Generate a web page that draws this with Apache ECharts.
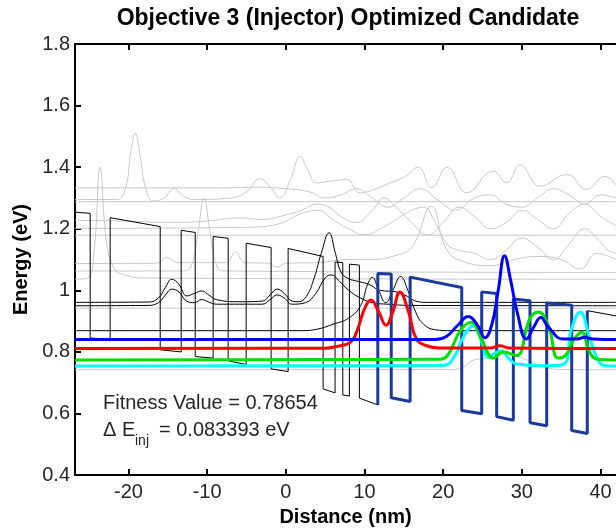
<!DOCTYPE html>
<html>
<head>
<meta charset="utf-8">
<script src="https://cdn.jsdelivr.net/npm/echarts@6/dist/echarts.min.js"></script>
<style>html,body{margin:0;padding:0;background:#fff}#c{width:616px;height:532px}</style>
</head>
<body>
<div id="c"></div>
<script>
// ---- axis ticks ----
const xTicks = [-20, -10, 0, 10, 20, 30, 40];
const yTicks = [0.4, 0.6, 0.8, 1, 1.2, 1.4, 1.6, 1.8];

// ---- conduction band profile [distance nm, energy eV] ----
const bandActive = [[-26.8,1.254],[-24.87,1.25],[-24.87,0.845],[-22.33,0.842],[-22.33,1.236],[-15.97,1.207],[-15.97,0.807],[-13.3,0.80],[-13.3,1.195],[-11.52,1.188],[-11.52,0.785],[-9.24,0.78],[-9.24,1.175],[-7.33,1.169],[-7.33,0.771],[-5.04,0.759],[-5.04,1.153],[-1.87,1.139],[-1.87,0.745],[0.29,0.736],[0.29,1.136],[4.74,1.11],[4.74,0.68],[6.26,0.667],[6.26,1.092],[7.24,1.09],[7.24,0.66],[8.08,0.657],[8.08,1.085],[9.35,1.082],[9.35,0.65],[11.69,0.628]];
const bandInjector = [[11.69,0.628],[11.69,1.055],[13.4,1.053],[13.4,0.651],[15.8,0.639],[15.8,1.043],[22.36,1.009],[22.36,0.61],[24.9,0.599],[24.9,0.995],[26.8,0.99],[26.8,0.59],[28.92,0.578],[28.92,0.972],[31.04,0.966],[31.04,0.57],[33.16,0.56],[33.16,0.959],[36.34,0.952],[36.34,0.545],[38.32,0.535],[38.32,0.934]];
const bandTail = [[38.32,0.934],[41.97,0.917]];

// ---- highlighted wavefunctions (|psi|^2 offset by level) ----
const psiBlue = [[-26.8,0.84],[19,0.84],[20.4,0.85],[21.8,0.885],[23.2,0.915],[24.4,0.885],[25.3,0.846],[26.2,0.89],[27,1.0],[27.8,1.112],[28.6,1.03],[29.4,0.93],[30.6,0.842],[31.5,0.88],[32.4,0.912],[33.4,0.88],[35.2,0.842],[37,0.842],[38,0.848],[39,0.842],[42,0.84]];
const psiRed = [[-26.8,0.811],[5,0.812],[6.5,0.818],[8.2,0.831],[9.0,0.865],[10.0,0.94],[10.8,0.969],[11.8,0.93],[12.74,0.887],[13.6,0.93],[14.5,0.995],[15.6,0.93],[16.6,0.842],[17.9,0.82],[19.5,0.813],[26,0.813],[27.2,0.82],[28.4,0.813],[42,0.811]];
const psiGreen = [[-26.8,0.774],[19.5,0.776],[20.6,0.79],[22.2,0.87],[23.6,0.896],[24.9,0.84],[26.4,0.78],[27.6,0.80],[29.3,0.788],[31.0,0.907],[32.1,0.93],[33.4,0.883],[34.6,0.78],[35.6,0.79],[36.6,0.84],[37.6,0.864],[38.6,0.80],[39.6,0.776],[42,0.774]];
const psiCyan = [[-26.8,0.754],[20,0.756],[21.3,0.78],[22.6,0.85],[23.8,0.885],[24.8,0.84],[25.7,0.783],[26.5,0.795],[27.4,0.804],[28.3,0.78],[29.3,0.761],[33,0.755],[35.3,0.76],[36.3,0.874],[37.4,0.93],[38.7,0.84],[39.9,0.765],[41,0.755],[42,0.754]];

// ---- other bound states (black) ----
const psiK1 = [[-26.8,0.961],[-17.5,0.962],[-16.2,0.975],[-15.3,1.01],[-14.5,1.036],[-13.6,1.02],[-12.6,0.982],[-11.6,0.99],[-10.7,0.998],[-9.8,0.985],[-8.8,0.97],[-6,0.963],[-3,0.965],[-2,0.985],[-1.1,1.004],[-0.2,0.99],[0.8,0.965],[1.6,0.963],[2.6,0.98],[3.6,1.04],[4.5,1.12],[5.5,1.187],[6.3,1.12],[7,1.06],[7.8,1.04],[9,1.03],[10.5,1.02],[12,1.0],[14,0.995],[15.5,0.98],[16.5,0.965],[18,0.961],[42,0.961]];
const psiK2 = [[-26.8,0.95],[-17.5,0.951],[-16.2,0.96],[-15.3,0.985],[-14.5,1.004],[-13.6,0.995],[-12.6,0.965],[-11.6,0.96],[-10.7,0.97],[-9.8,0.962],[-8.8,0.955],[-3,0.955],[-2,0.97],[-1.1,0.985],[-0.2,0.975],[0.8,0.955],[2.5,0.96],[3.8,0.99],[5,1.04],[5.8,1.05],[6.8,1.03],[8,1.0],[9.5,0.975],[11,0.96],[13,0.955],[16,0.951],[42,0.95]];
const psiK3 = [[-26.8,0.869],[2,0.869],[4,0.874],[6,0.89],[8,0.91],[9.5,0.95],[10.4,1.02],[11.0,1.042],[11.8,1.0],[12.7,0.96],[13.6,1.0],[14.6,1.045],[15.5,1.0],[16.5,0.93],[17.5,0.89],[19,0.872],[21,0.869],[42,0.869]];

// ---- upper states (grey) ----
const psiG1 = [[-26.8,1.295],[-21.5,1.295],[-20.4,1.33],[-19.7,1.45],[-19.15,1.51],[-18.6,1.45],[-17.8,1.33],[-16.8,1.29],[-15.5,1.30],[-14.2,1.33],[-13,1.305],[-11.5,1.295],[-7,1.30],[-5,1.32],[-3.3,1.362],[-1.8,1.33],[-0.8,1.30],[0.6,1.36],[1.8,1.435],[2.8,1.39],[3.94,1.349],[5.8,1.355],[7.75,1.36],[9.44,1.317],[11.5,1.33],[13.25,1.349],[15.2,1.37],[16.8,1.40],[18.55,1.333],[20.5,1.40],[23.0,1.317],[26.34,1.387],[28.08,1.349],[29.77,1.408],[32.3,1.338],[35.74,1.376],[38.2,1.328],[40.57,1.37],[42,1.34]];
const psiG2 = [[-26.8,1.333],[-8,1.333],[-4,1.335],[0,1.33],[3,1.32],[5,1.30],[7,1.31],[9,1.33],[11,1.30],[13,1.27],[15,1.30],[17,1.33],[19.5,1.29],[21.5,1.26],[24,1.30],[26,1.31],[28,1.28],[30,1.27],[32,1.30],[34,1.33],[36,1.31],[38,1.28],[40,1.31],[42,1.30]];
const psiG3 = [[-26.8,1.288],[42,1.288]];
const psiG4 = [[-26.8,1.227],[-20,1.225],[-15,1.22],[-10,1.225],[-6,1.235],[-3,1.23],[0,1.245],[2,1.26],[4,1.28],[5.5,1.27],[7,1.24],[9,1.22],[11,1.26],[12.5,1.30],[14,1.27],[16,1.22],[18,1.18],[20,1.22],[22,1.27],[24,1.24],[26,1.20],[28,1.22],[30,1.26],[32,1.23],[34,1.20],[36,1.25],[38,1.28],[40,1.24],[42,1.21]];
const psiG5 = [[-26.8,1.201],[-5,1.205],[-1,1.215],[2,1.25],[4,1.26],[6,1.23],[8,1.2],[10,1.18],[12,1.2],[14,1.23],[16,1.26],[17.5,1.27],[19,1.22],[20.5,1.15],[22,1.13],[24,1.12],[26,1.10],[28,1.13],[30,1.17],[32,1.14],[34,1.10],[36,1.15],[38,1.2],[39.5,1.17],[41,1.13],[42,1.12]];
const psiG6 = [[-26.8,1.179],[42,1.179]];
const psiG7 = [[-26.8,1.087],[-16.5,1.088],[-15.1,1.107],[-13.8,1.09],[-7.6,1.09],[-6.4,1.125],[-5.2,1.09],[-2.2,1.088],[-1.1,1.075],[0,1.088],[4,1.09],[8,1.10],[11,1.10],[13.5,1.11],[16,1.14],[18.5,1.273],[20.5,1.13],[23,1.09],[26,1.08],[29,1.10],[32,1.11],[35,1.10],[37.4,1.069],[39.5,1.12],[42,1.10]];
const psiG8 = [[-26.8,1.063],[-13,1.063],[-12,1.08],[-11.2,1.18],[-10.4,1.30],[-9.6,1.18],[-8.8,1.08],[-8,1.063],[42,1.058]];
const psiG9 = [[-26.8,1.036],[-25.2,1.04],[-24.4,1.12],[-23.6,1.40],[-22.8,1.16],[-21.8,1.07],[-20.5,1.05],[-18,1.04],[42,1.036]];
const psiG10 = [[-26.8,0.942],[42,0.942]];
const psiG11 = [[-26.8,0.742],[21,0.743],[22.5,0.75],[24,0.775],[26,0.78],[28,0.795],[29.5,0.785],[31,0.77],[33,0.75],[35,0.743],[42,0.742]];

const greys = [psiG1, psiG2, psiG3, psiG4, psiG5, psiG6, psiG7, psiG8, psiG9, psiG10, psiG11];
const blacks = [psiK1, psiK2, psiK3];

const FONT = 'Liberation Sans, Arial, sans-serif';
const chart = echarts.init(document.getElementById('c'), null, {renderer: 'canvas'});

function line(data, color, width, smooth, z) {
  return {type: 'line', data: data, showSymbol: false, symbol: 'none', smooth: smooth,
    lineStyle: {color: color, width: width}, z: z, silent: true, animation: false};
}

const series = [];
greys.forEach(g => series.push(line(g, '#c8c8c8', 1, 0.45, 1)));
blacks.forEach(k => series.push(line(k, '#000000', 1, 0.45, 2)));
series.push(line(bandActive, '#000000', 1, false, 3));
series.push(line(bandTail, '#000000', 1, false, 3));
series.push(line(bandInjector, '#1c3a9c', 3, false, 3));
series.push(line(psiCyan, '#00ffff', 3, 0.45, 4));
series.push(line(psiGreen, '#00e000', 3, 0.45, 4));
series.push(line(psiRed, '#ff0000', 3, 0.45, 4));
series.push(line(psiBlue, '#0000ff', 3, 0.45, 4));

const axisLine = {show: true, onZero: false, lineStyle: {color: '#000', width: 2}};
const axisTick = {show: true, inside: true, length: 6, lineStyle: {color: '#000', width: 2}};

chart.setOption({
  animation: false,
  backgroundColor: '#fff',
  grid: {left: 75, right: 0, top: 44, bottom: 55, containLabel: false},
  xAxis: [{
    type: 'value', position: 'bottom', min: -26.8, max: 41.97,
    axisLine: axisLine,
    axisTick: Object.assign({customValues: xTicks}, axisTick),
    axisLabel: {customValues: xTicks, fontSize: 20, color: '#262626', margin: 7, fontFamily: FONT},
    splitLine: {show: false},
    name: 'Distance (nm)', nameLocation: 'middle', nameGap: 31,
    nameTextStyle: {fontSize: 20, fontWeight: 'bold', color: '#000', fontFamily: FONT}
  }, {
    type: 'value', position: 'top', min: -26.8, max: 41.97,
    axisLine: axisLine,
    axisTick: Object.assign({customValues: xTicks}, axisTick),
    axisLabel: {show: false}, splitLine: {show: false}
  }],
  yAxis: [{
    type: 'value', min: 0.4, max: 1.8,
    axisLine: axisLine,
    axisTick: Object.assign({customValues: yTicks}, axisTick),
    axisLabel: {customValues: yTicks, fontSize: 20, color: '#262626', margin: 5, fontFamily: FONT},
    splitLine: {show: false},
    name: 'Energy (eV)', nameLocation: 'middle', nameGap: 37, nameRotate: 90,
    nameTextStyle: {fontSize: 20, fontWeight: 'bold', color: '#000', fontFamily: FONT}
  }],
  graphic: [
    {type: 'text', x: 348, y: 19, z: 10, style: {text: 'Objective 3 (Injector) Optimized Candidate', textAlign: 'center', textVerticalAlign: 'middle', font: 'bold 23px ' + FONT, fill: '#000'}},
    {type: 'text', x: 103, y: 403, z: 10, style: {text: 'Fitness Value = 0.78654', textAlign: 'left', textVerticalAlign: 'middle', font: '20px ' + FONT, fill: '#262626'}},
    {type: 'text', x: 103, y: 430, z: 10, style: {text: 'Δ E', textAlign: 'left', textVerticalAlign: 'middle', font: '20px ' + FONT, fill: '#262626'}},
    {type: 'text', x: 135, y: 441, z: 10, style: {text: 'inj', textAlign: 'left', textVerticalAlign: 'middle', font: '14px ' + FONT, fill: '#262626'}},
    {type: 'text', x: 159, y: 430, z: 10, style: {text: '= 0.083393 eV', textAlign: 'left', textVerticalAlign: 'middle', font: '20px ' + FONT, fill: '#262626'}}
  ],
  series: series
});
</script>
</body>
</html>
